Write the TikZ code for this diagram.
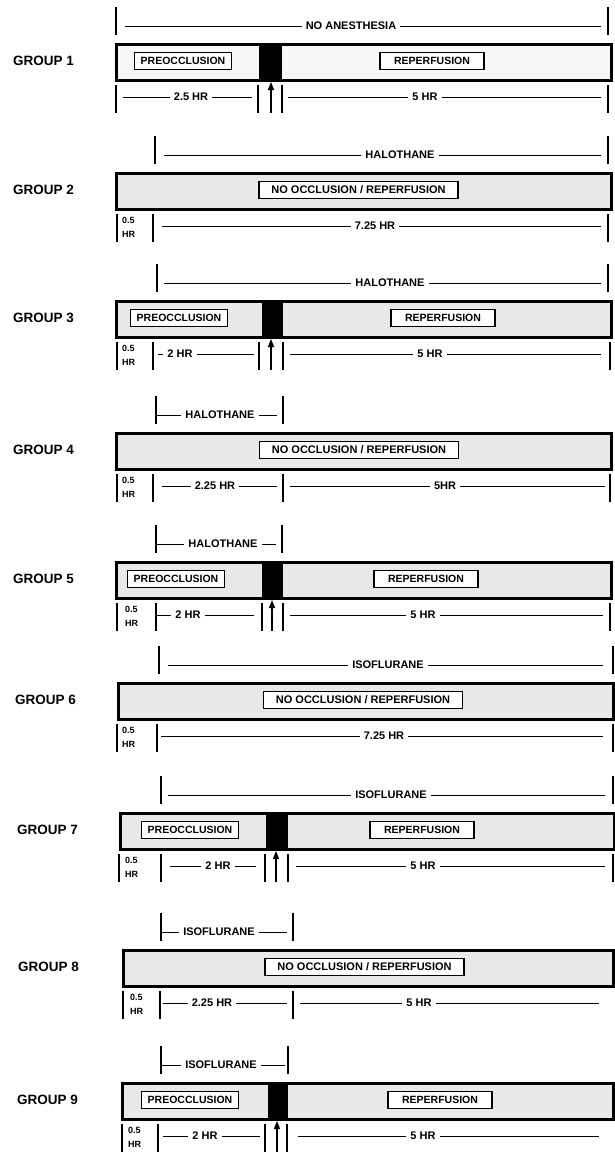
\documentclass[tikz,border=0pt]{standalone}
\usepackage{fontspec}
\setmainfont{Liberation Sans}
\usetikzlibrary{arrows.meta}
\tikzset{
  tk/.style={line width=1.8pt},
  dim/.style={line width=0.9pt},
  lbl/.style={font=\bfseries\fontsize{11}{11}\selectfont, inner xsep=4pt, inner ysep=0pt},
  hr/.style={font=\bfseries\fontsize{9}{14.5}\selectfont, align=left, inner sep=0pt, anchor=west},
  barbox/.style={draw, line width=3pt, anchor=north west, minimum height=36pt, inner sep=0pt},
  plain/.style={fill=black!3},
  speck/.style={fill=black!9},
  inbox/.style={draw, line width=1.6pt, fill=white, font=\bfseries\fontsize{10.5}{10.5}\selectfont, minimum height=17pt, inner sep=0pt},
  prebox/.style={inbox, minimum width=97pt},
  repbox/.style={inbox, minimum width=104pt},
  nobox/.style={inbox, minimum width=199pt, font=\bfseries\fontsize{11}{11}\selectfont},
  grp/.style={font=\bfseries\fontsize{13.5}{13.5}\selectfont, anchor=west, inner sep=0pt},
  arr/.style={line width=1.3pt, -{Triangle[length=8pt,width=6pt]}},
  occ/.style={fill=black, anchor=north west, minimum height=36pt, inner sep=0pt, outer sep=0pt},
}
\newcommand\vtk[4]{\coordinate (#1t) at (#2,#3); \coordinate (#1b) at (#2,#4); \draw[tk] (#1t) -- (#1b);}
\newcommand\seg[6]{\node[lbl] (#1) at (#5,#2) {#6}; \coordinate (#1a) at (#3,#2); \coordinate (#1b) at (#4,#2); \draw[dim] (#1a) -- (#1.west); \draw[dim] (#1.east) -- (#1b);}
\begin{document}
\begin{tikzpicture}[x=1pt,y=-1pt]
\useasboundingbox (0,0) rectangle (614,1154);

% ---------------- GROUP 1
\begin{scope}[shift={(0,43)}]
 \node[grp] (g1lab) at (13,18) {GROUP 1};
 \node[barbox, plain, minimum width=495pt] (g1bar) at (115,0) {};
 \node[occ, minimum width=23pt] (g1occ) at (259,0) {};
 \node[prebox] (g1pre) at (183,18) {PREOCCLUSION};
 \node[repbox] (g1rep) at (432,18) {REPERFUSION};
 \vtk{g1tl}{116}{-36}{-8} \vtk{g1tr}{608}{-36}{-8}
 \seg{g1an}{-17}{125}{601}{351}{NO ANESTHESIA}
 \vtk{g1ba}{116}{42}{70} \vtk{g1bb}{258}{42}{70} \vtk{g1bc}{282}{42}{70} \vtk{g1bd}{608}{42}{70}
 \seg{g1da}{54}{123}{252}{191}{2.5 HR}
 \seg{g1db}{54}{288}{601}{425}{5 HR}
 \coordinate (g1ar) at (271,70);
 \draw[arr] (g1ar) -- (g1ar |- g1bar.south);
\end{scope}

% ---------------- GROUP 2
\begin{scope}[shift={(0,172)}]
 \node[grp] (g2lab) at (13,18) {GROUP 2};
 \node[barbox, speck, minimum width=495pt] (g2bar) at (115,0) {};
 \node[nobox] (g2no) at (358.5,18) {NO OCCLUSION / REPERFUSION};
 \vtk{g2tl}{155}{-36}{-8} \vtk{g2tr}{608}{-36}{-8}
 \seg{g2an}{-17}{164}{601}{400}{HALOTHANE}
 \vtk{g2ba}{117}{42}{70} \vtk{g2bb}{153}{42}{70} \vtk{g2bd}{608}{42}{70}
 \node[hr] (g2hr) at (122,55.5) {0.5\\HR};
 \seg{g2da}{54}{162}{601}{375}{7.25 HR}
\end{scope}

% ---------------- GROUP 3
\begin{scope}[shift={(0,300)}]
 \node[grp] (g3lab) at (13,18) {GROUP 3};
 \node[barbox, speck, minimum width=495pt] (g3bar) at (115,0) {};
 \node[occ, minimum width=21pt] (g3occ) at (262,0) {};
 \node[prebox] (g3pre) at (179,18) {PREOCCLUSION};
 \node[repbox] (g3rep) at (443,18) {REPERFUSION};
 \vtk{g3tl}{157}{-36}{-8} \vtk{g3tr}{608}{-36}{-8}
 \seg{g3an}{-17}{164}{601}{390}{HALOTHANE}
 \vtk{g3ba}{117}{42}{70} \vtk{g3bb}{153}{42}{70} \vtk{g3bc}{259}{42}{70} \vtk{g3bd}{283}{42}{70} \vtk{g3be}{610}{42}{70}
 \node[hr] (g3hr) at (122,55.5) {0.5\\HR};
 \seg{g3da}{54}{158}{254}{180}{2 HR}
 \seg{g3db}{54}{290}{601}{430}{5 HR}
 \coordinate (g3ar) at (271,70);
 \draw[arr] (g3ar) -- (g3ar |- g3bar.south);
\end{scope}

% ---------------- GROUP 4
\begin{scope}[shift={(0,432)}]
 \node[grp] (g4lab) at (13,18) {GROUP 4};
 \node[barbox, speck, minimum width=495pt] (g4bar) at (115,0) {};
 \node[nobox] (g4no) at (359,18) {NO OCCLUSION / REPERFUSION};
 \vtk{g4tl}{156}{-36}{-8} \vtk{g4tr}{283}{-36}{-8}
 \seg{g4an}{-17}{156}{277}{220}{HALOTHANE}
 \vtk{g4ba}{117}{42}{70} \vtk{g4bb}{153}{42}{70} \vtk{g4bc}{283}{42}{70} \vtk{g4bd}{610}{42}{70}
 \node[hr] (g4hr) at (122,55.5) {0.5\\HR};
 \seg{g4da}{54}{162}{277}{215}{2.25 HR}
 \seg{g4db}{54}{290}{605}{445}{5HR}
\end{scope}

% ---------------- GROUP 5
\begin{scope}[shift={(0,561)}]
 \node[grp] (g5lab) at (13,18) {GROUP 5};
 \node[barbox, speck, minimum width=495pt] (g5bar) at (115,0) {};
 \node[occ, minimum width=21pt] (g5occ) at (262,0) {};
 \node[prebox] (g5pre) at (176,18) {PREOCCLUSION};
 \node[repbox] (g5rep) at (426,18) {REPERFUSION};
 \vtk{g5tl}{156}{-36}{-8} \vtk{g5tr}{282}{-36}{-8}
 \seg{g5an}{-17}{156}{276}{223}{HALOTHANE}
 \vtk{g5ba}{117}{42}{70} \vtk{g5bb}{156}{42}{70} \vtk{g5bc}{262}{42}{70} \vtk{g5bd}{283}{42}{70} \vtk{g5be}{610}{42}{70}
 \node[hr] (g5hr) at (125,55.5) {0.5\\HR};
 \seg{g5da}{54}{156}{254}{188}{2 HR}
 \seg{g5db}{54}{290}{603}{423}{5 HR}
 \coordinate (g5ar) at (272,70);
 \draw[arr] (g5ar) -- (g5ar |- g5bar.south);
\end{scope}

% ---------------- GROUP 6
\begin{scope}[shift={(2,682)}]
 \node[grp] (g6lab) at (13,18) {GROUP 6};
 \node[barbox, speck, minimum width=495pt] (g6bar) at (115,0) {};
 \node[nobox] (g6no) at (361,18) {NO OCCLUSION / REPERFUSION};
 \vtk{g6tl}{157}{-36}{-8} \vtk{g6tr}{611}{-36}{-8}
 \seg{g6an}{-17}{166}{601}{386}{ISOFLURANE}
 \vtk{g6ba}{115}{42}{70} \vtk{g6bb}{155}{42}{70} \vtk{g6bd}{611}{42}{70}
 \node[hr] (g6hr) at (120,55.5) {0.5\\HR};
 \seg{g6da}{54}{159}{601}{382}{7.25 HR}
\end{scope}

% ---------------- GROUP 7
\begin{scope}[shift={(4,812)}]
 \node[grp] (g7lab) at (13,18) {GROUP 7};
 \node[barbox, speck, minimum width=494pt] (g7bar) at (115,0) {};
 \node[occ, minimum width=22pt] (g7occ) at (262,0) {};
 \node[prebox] (g7pre) at (186,18) {PREOCCLUSION};
 \node[repbox] (g7rep) at (418,18) {REPERFUSION};
 \vtk{g7tl}{157}{-36}{-8} \vtk{g7tr}{609}{-36}{-8}
 \seg{g7an}{-17}{164}{601}{387}{ISOFLURANE}
 \vtk{g7ba}{115}{42}{70} \vtk{g7bb}{157}{42}{70} \vtk{g7bc}{261}{42}{70} \vtk{g7bd}{284}{42}{70} \vtk{g7be}{609}{42}{70}
 \node[hr] (g7hr) at (121,55.5) {0.5\\HR};
 \seg{g7da}{54}{166}{252}{214}{2 HR}
 \seg{g7db}{54}{292}{601}{419}{5 HR}
 \coordinate (g7ar) at (272,70);
 \draw[arr] (g7ar) -- (g7ar |- g7bar.south);
\end{scope}

% ---------------- GROUP 8
\begin{scope}[shift={(7,949)}]
 \node[grp] (g8lab) at (11,18) {GROUP 8};
 \node[barbox, speck, minimum width=490pt] (g8bar) at (115,0) {};
 \node[nobox] (g8no) at (357.5,18) {NO OCCLUSION / REPERFUSION};
 \vtk{g8tl}{154}{-36}{-8} \vtk{g8tr}{286}{-36}{-8}
 \seg{g8an}{-17}{154}{280}{212}{ISOFLURANE}
 \vtk{g8ba}{116}{42}{70} \vtk{g8bb}{153}{42}{70} \vtk{g8bc}{286}{42}{70}
 \node[hr] (g8hr) at (123,55.5) {0.5\\HR};
 \seg{g8da}{54}{156}{280}{205}{2.25 HR}
 \seg{g8db}{54}{293}{592}{412}{5 HR}
\end{scope}

% ---------------- GROUP 9
\begin{scope}[shift={(6,1082)}]
 \node[grp] (g9lab) at (11,18) {GROUP 9};
 \node[barbox, speck, minimum width=491pt] (g9bar) at (115,0) {};
 \node[occ, minimum width=20pt] (g9occ) at (262,0) {};
 \node[prebox] (g9pre) at (184,18) {PREOCCLUSION};
 \node[repbox] (g9rep) at (434,18) {REPERFUSION};
 \vtk{g9tl}{155}{-36}{-8} \vtk{g9tr}{282}{-36}{-8}
 \seg{g9an}{-17}{155}{279}{215}{ISOFLURANE}
 \vtk{g9ba}{116}{42}{70} \vtk{g9bb}{152}{42}{70} \vtk{g9bc}{259}{42}{70} \vtk{g9bd}{281}{42}{70}
 \node[hr] (g9hr) at (122,55.5) {0.5\\HR};
 \seg{g9da}{54}{157}{254}{199}{2 HR}
 \seg{g9db}{54}{292}{593}{417}{5 HR}
 \coordinate (g9ar) at (271,70);
 \draw[arr] (g9ar) -- (g9ar |- g9bar.south);
\end{scope}
\end{tikzpicture}
\end{document}
